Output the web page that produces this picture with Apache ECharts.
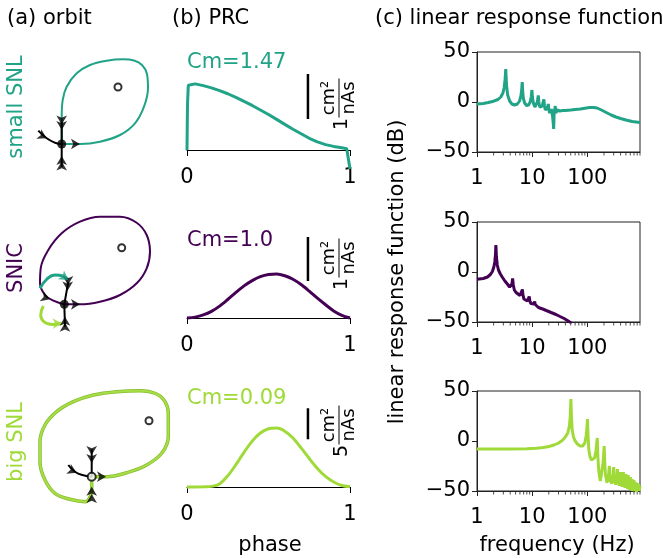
<!DOCTYPE html>
<html>
<head>
<meta charset="utf-8">
<script src="https://cdn.jsdelivr.net/npm/echarts@6/dist/echarts.min.js"></script>
<style>
  html, body { margin: 0; padding: 0; background: #fff; }
  #chart { width: 663px; height: 558px; }
</style>
</head>
<body>
<div id="chart"></div>
<script>
// ---- data ----
var rowNames = ["small SNL", "SNIC", "big SNL"];
var cmLabels = ["Cm=1.47", "Cm=1.0", "Cm=0.09"];
var scaleUnits = ["1", "1", "5"];
var colors = ["#20a386", "#440154", "#a0da39"];

// (a) orbits, phase plane (arbitrary units)
var orbitSmall = [[4.17, 3.6], [6.0, 3.6], [8.0, 3.83], [10.0, 4.5], [11.5, 5.67], [12.4, 7.33], [12.8, 9.2], [12.7, 10.6], [12.2, 11.5], [11.4, 11.95], [10.33, 12.07], [8.67, 11.93], [7.0, 11.5], [5.67, 10.67], [4.67, 9.33], [4.27, 8.0], [4.17, 6.33], [4.17, 3.6]];
var orbitSnic = [[4.43, 4.07], [6.0, 4.07], [8.0, 4.33], [10.0, 5.0], [11.67, 6.17], [12.67, 7.67], [13.0, 9.33], [12.67, 11.0], [11.67, 12.23], [10.0, 12.83], [8.0, 12.83], [6.0, 12.33], [4.17, 11.17], [2.83, 9.5], [2.07, 7.67], [2.0, 6.17], [2.5, 5.0], [3.33, 4.43], [4.43, 4.07]];
var orbitBig = [[7.17, 4.83], [8.67, 4.83], [10.67, 5.23], [12.67, 6.0], [14.17, 7.17], [14.83, 8.83], [14.83, 11.17], [14.5, 12.33], [13.67, 13.1], [12.0, 13.43], [9.67, 13.33], [7.33, 13.0], [5.33, 12.33], [3.67, 11.33], [2.5, 10.0], [2.0, 8.33], [2.0, 6.33], [2.5, 4.5], [3.5, 3.17], [5.0, 2.57], [6.5, 2.33], [6.93, 2.67], [7.17, 3.5], [7.17, 4.83]];
var saddles = [[4.17, 3.6], [4.43, 4.07], [7.17, 4.83]];
var foci = [[9.8, 9.3], [10.17, 9.73], [12.9, 10.43]];
var stableManifolds = [
  [[4.17, 5.8], [4.17, 1.3]],
  [[4.83, 6.33], [4.43, 4.07], [4.5, 1.83]],
  [[7.17, 7.57], [7.17, 4.83]],
];
var incoming = [
  [[1.83, 4.93], [2.67, 4.17], [3.5, 3.73], [4.17, 3.6]],
  [],
  [[4.83, 6.0], [5.5, 5.33], [6.33, 4.97], [7.17, 4.83]],
];
// [x, y, direction in degrees]
var arrowsSmall = [[4.17, 5.55, 180], [4.17, 5.0, 180], [4.17, 2.4, 0], [4.17, 1.85, 0], [6.0, 3.6, -90], [2.67, 4.17, -118]];
var arrowsSnic = [[4.8, 6.0, 180], [4.77, 5.45, 180], [4.5, 2.83, 0], [4.5, 2.23, 0], [6.0, 4.07, -90], [3.0, 4.57, -110]];
var arrowsBig = [[7.17, 7.0, 180], [7.17, 6.2, 180], [7.17, 3.83, 0], [7.17, 3.1, 0], [8.6, 4.83, -90], [5.67, 5.23, -115]];
var kickUp = [[2.0, 5.67], [2.7, 6.6], [3.5, 7.0], [4.3, 6.9], [4.83, 6.5]];
var kickDown = [[2.33, 3.9], [2.07, 3.0], [2.67, 2.17], [3.4, 2.05], [4.17, 2.17]];

// (b) phase response curves
var prcSmall = [[0, 0], [0.003, 1.0], [0.008, 1.44], [0.02, 1.48], [0.05, 1.47], [0.1, 1.43], [0.15, 1.38], [0.2, 1.32], [0.25, 1.25], [0.3, 1.17], [0.35, 1.08], [0.4, 0.99], [0.45, 0.89], [0.5, 0.79], [0.55, 0.68], [0.6, 0.57], [0.65, 0.46], [0.7, 0.36], [0.75, 0.26], [0.8, 0.18], [0.85, 0.12], [0.9, 0.08], [0.95, 0.05], [0.98, 0.03], [0.99, 0.0], [1.0, -0.42]];
var prcSnic = [[0, 0], [0.05, 0.02], [0.1, 0.07], [0.15, 0.15], [0.2, 0.27], [0.25, 0.42], [0.3, 0.58], [0.35, 0.73], [0.4, 0.85], [0.45, 0.94], [0.5, 0.99], [0.55, 1.0], [0.6, 0.96], [0.65, 0.88], [0.7, 0.76], [0.75, 0.61], [0.8, 0.45], [0.85, 0.3], [0.9, 0.16], [0.95, 0.06], [1.0, 0.0]];
var prcBig = [[0, 0], [0.05, 0], [0.1, 0.02], [0.15, 0.1], [0.2, 0.5], [0.25, 1.8], [0.3, 3.6], [0.35, 5.6], [0.4, 7.4], [0.45, 8.7], [0.5, 9.4], [0.55, 9.5], [0.6, 9.0], [0.65, 7.9], [0.7, 6.3], [0.75, 4.6], [0.8, 3.0], [0.85, 1.7], [0.9, 0.8], [0.95, 0.25], [1.0, 0.05]];
var scaleBars = [
  [[0.742, 0.69], [0.742, 1.69]],
  [[0.742, 0.84], [0.742, 1.84]],
  [[0.742, 7.7], [0.742, 12.7]],
];

// (c) linear response function, [Hz, dB]
var lrfSmall = [[1, -2], [1.3, -1.5], [1.6, -0.5], [2, 0.8], [2.4, 2.5], [2.7, 5], [2.95, 9], [3.1, 14], [3.2, 20], [3.27, 27], [3.32, 33], [3.37, 25], [3.45, 15], [3.6, 7], [3.9, 1], [4.3, -2], [4.8, -3], [5.4, -2], [5.9, 1], [6.25, 6], [6.45, 12], [6.6, 20], [6.72, 12], [6.9, 4], [7.3, -1], [7.9, -3.5], [8.6, -3], [9.2, 0], [9.6, 5], [9.9, 12], [10.1, 5], [10.5, -1], [11.2, -5], [11.8, -4], [12.4, 0], [12.9, 6.5], [13.2, 0], [13.7, -5], [14.4, -7], [15.2, -4], [15.8, 0], [16.3, 2.5], [16.7, -4], [17.3, -8], [18.2, -9], [19, -5], [19.6, -2], [20.1, -8], [20.8, -11], [21.6, -13], [22.3, -7], [22.8, -5], [23.4, -14], [24, -20], [24.5, -27], [25, -12], [25.6, -8], [26.2, -4], [26.8, -11], [27.6, -12], [28.5, -8], [29.5, -6], [30.5, -10], [31.5, -9], [33, -8], [36, -8.5], [40, -8.5], [50, -8], [60, -7.5], [75, -7], [90, -6.2], [110, -5.6], [130, -5.4], [150, -6], [180, -8], [220, -10.5], [270, -13], [330, -15], [400, -16.5], [500, -18], [650, -19.5], [900, -20.5]];
var lrfSnic = [[1, -7.3], [1.3, -6.5], [1.55, -5], [1.75, -2.5], [1.9, 0.5], [2.02, 5], [2.1, 10], [2.16, 17], [2.2, 27], [2.25, 15], [2.33, 7], [2.45, 2], [2.65, -2], [2.9, -5.5], [3.2, -9], [3.55, -12], [3.9, -15], [4.15, -16], [4.3, -12], [4.42, -6.5], [4.55, -13], [4.75, -18], [5.1, -20.5], [5.5, -22], [6.0, -23.5], [6.4, -21.5], [6.65, -17.5], [6.8, -23], [7.1, -27], [7.6, -28.5], [8.2, -29], [8.6, -27.5], [8.85, -24.5], [9.05, -29], [9.5, -31.5], [10.2, -33], [10.8, -32], [11.1, -29.5], [11.35, -32.5], [12, -34.5], [13, -35.5], [14, -36], [15.5, -37], [18, -38.5], [22, -40.5], [27, -42.5], [32, -44.5], [38, -46.5], [45, -49], [52, -51.5]];
var lrfBig = [[1, -8], [2, -8], [4, -8], [8, -7.8], [12, -7.3], [16, -6.5], [20, -5.5], [25, -4], [30, -2], [35, 0.5], [40, 4], [44, 8], [47, 14], [49, 24], [50.3, 42], [51.5, 24], [53, 12], [56, 4], [60, 0], [66, -3], [74, -5], [82, -5], [90, -2], [95, 5], [98, 12], [100.5, 22], [103, 5], [106, -8], [111, -15], [118, -19], [126, -18], [135, -17], [143, -10], [148, -2], [151.5, 3], [155, -15], [160, -28], [166, -35], [172, -40], [178, -35], [185, -28], [193, -22], [198, -12], [202, -5], [206, -20], [212, -33], [220, -38],
  [228, -42], [234, -33], [240, -40], [246, -30], [251, -25], [256, -36], [262, -41], [268, -34], [275, -43], [282, -36], [290, -40], [296, -30], [300, -26], [305, -37], [312, -42], [318, -35], [325, -44], [332, -37], [340, -42], [346, -32], [350, -28], [356, -38], [363, -43], [370, -36], [378, -45], [386, -38], [394, -43], [399, -31], [403, -36], [410, -44], [418, -38], [426, -46], [434, -39], [442, -45], [450, -31], [456, -39], [464, -45], [472, -38], [480, -47], [490, -40], [496, -46], [500, -33], [507, -41], [516, -47], [526, -40], [536, -48], [545, -40], [550, -34], [557, -44], [566, -48], [576, -41], [586, -49], [596, -42], [601, -36], [608, -45], [618, -49], [628, -42], [640, -49], [648, -38], [656, -46], [668, -50], [680, -43], [692, -50], [700, -39], [710, -47], [722, -50], [735, -44], [745, -50], [751, -41], [760, -48], [775, -51], [788, -45], [798, -42], [808, -50], [822, -52], [836, -46], [850, -43], [862, -50], [878, -52], [890, -47], [900, -45]];
var minorTicks = [2, 3, 4, 5, 6, 7, 8, 9, 20, 30, 40, 50, 60, 70, 80, 90, 200, 300, 400, 500, 600, 700, 800, 900];
var freqLabels = [1, 10, 100];

// ---- layout ----
var FONT = "DejaVu Sans";
var rowTop = [30, 195, 375];
var prcGrid = [
  { top: 60, max: 2.0 },
  { top: 228, max: 2.045 },
  { top: 397, max: 14.516 },
];
var lrfTop = [52, 222, 391];
var scaleLabelY = [98, 258, 425];

var orbits = [orbitSmall, orbitSnic, orbitBig];
var arrows = [arrowsSmall, arrowsSnic, arrowsBig];
var prcs = [prcSmall, prcSnic, prcBig];
var lrfs = [lrfSmall, lrfSnic, lrfBig];

var chart = echarts.init(document.getElementById("chart"), null, { renderer: "canvas" });

var grid = [], xAxis = [], yAxis = [], series = [], graphic = [];

function arrowSeries(idx, pts, color) {
  return {
    type: "scatter",
    xAxisIndex: idx,
    yAxisIndex: idx,
    symbol: "arrow",
    symbolSize: [8, 9],
    itemStyle: { color: color },
    silent: true,
    z: 5,
    data: pts.map(function (p) {
      return { value: [p[0], p[1]], symbolRotate: p[2] };
    }),
  };
}

function lineSeries(idx, data, color, width, smooth, z) {
  return {
    type: "line",
    xAxisIndex: idx,
    yAxisIndex: idx,
    data: data,
    showSymbol: false,
    symbol: "none",
    smooth: smooth,
    silent: true,
    clip: false,
    z: z || 2,
    lineStyle: { color: color, width: width },
  };
}

for (var r = 0; r < 3; r++) {
  // ---- (a) orbit ----
  var gi = grid.length;
  grid.push({ left: 20, top: rowTop[r], width: 150, height: 150 });
  xAxis.push({ gridIndex: gi, type: "value", min: 0, max: 15, show: false });
  yAxis.push({ gridIndex: gi, type: "value", min: 0, max: 15, show: false });
  if (r === 2) {
    series.push(lineSeries(gi, orbits[r], "#86bd30", 3.5, 0.4, 2));
    series.push(lineSeries(gi, orbits[r], "#a8de45", 2, 0.4, 3));
  } else {
    series.push(lineSeries(gi, orbits[r], colors[r], 2, 0.4, 3));
  }
  series.push(lineSeries(gi, stableManifolds[r], "#000", 2, false, 4));
  if (incoming[r].length) series.push(lineSeries(gi, incoming[r], "#000", 2, true, 4));
  series.push(arrowSeries(gi, arrows[r], "#000"));
  if (r === 1) {
    series.push(lineSeries(gi, kickUp, colors[0], 3, true, 4));
    series.push(arrowSeries(gi, [[4.83, 6.5, -125]], colors[0]));
    series.push(lineSeries(gi, kickDown, colors[2], 3, true, 4));
    series.push(arrowSeries(gi, [[4.17, 2.17, -88]], colors[2]));
  }
  series.push({
    type: "scatter", xAxisIndex: gi, yAxisIndex: gi, silent: true, z: 6,
    symbol: "circle", symbolSize: 7,
    itemStyle: { color: "#fff", borderColor: "#000", borderWidth: 2 },
    data: [foci[r]],
  });
  series.push({
    type: "scatter", xAxisIndex: gi, yAxisIndex: gi, silent: true, z: 6,
    symbol: "circle", symbolSize: r === 2 ? 8 : 9,
    itemStyle: r === 2 ? { color: "#fff", borderColor: "#000", borderWidth: 2 } : { color: "#000" },
    data: [saddles[r]],
  });
  graphic.push({
    type: "text", x: 17, y: [107, 268, 442][r], rotation: Math.PI / 2,
    style: { text: rowNames[r], fill: colors[r], fontSize: 21, fontFamily: FONT, textAlign: "center", textVerticalAlign: "middle" },
  });

  // ---- (b) PRC ----
  gi = grid.length;
  var pg = prcGrid[r];
  grid.push({ left: 187, width: 163, top: pg.top, height: 90 });
  xAxis.push({
    gridIndex: gi, type: "value", min: 0, max: 1, interval: 1,
    axisLine: { onZero: false, lineStyle: { color: "#000", width: 1 } },
    axisTick: { length: 6, lineStyle: { color: "#000" } },
    axisLabel: { color: "#000", fontSize: 21, fontFamily: FONT, margin: 17 },
    splitLine: { show: false },
  });
  yAxis.push({ gridIndex: gi, type: "value", min: 0, max: pg.max, show: false });
  series.push(lineSeries(gi, prcs[r], colors[r], 3, r === 0 ? false : 0.3, 3));
  series.push(lineSeries(gi, scaleBars[r], "#000", 2.5, false, 3));
  graphic.push({
    type: "text", x: 187, y: [63, 241, 399][r],
    style: { text: cmLabels[r], fill: colors[r], fontSize: 21, fontFamily: FONT, textAlign: "left", textVerticalAlign: "middle" },
  });
  graphic.push({
    type: "group", x: 339, y: scaleLabelY[r], rotation: Math.PI / 2,
    children: [
      { type: "line", shape: { x1: -19.5, y1: 0, x2: 19.5, y2: 0 }, style: { stroke: "#000", lineWidth: 1 } },
      { type: "text", x: 0, y: -10, style: { text: "cm\u00b2", fill: "#000", fontSize: 18, fontFamily: FONT, textAlign: "center", textVerticalAlign: "middle" } },
      { type: "text", x: 0, y: 10, style: { text: "nAs", fill: "#000", fontSize: 18, fontFamily: FONT, textAlign: "center", textVerticalAlign: "middle" } },
      { type: "text", x: -26, y: 3, style: { text: scaleUnits[r], fill: "#000", fontSize: 19, fontFamily: FONT, textAlign: "center", textVerticalAlign: "middle" } },
    ],
  });

  // ---- (c) linear response function ----
  gi = grid.length;
  grid.push({ left: 477, width: 163, top: lrfTop[r], height: 100, show: true, borderColor: "#222", borderWidth: 1 });
  xAxis.push({
    gridIndex: gi, type: "log", logBase: 10, min: 1, max: 900,
    axisLine: { onZero: false, lineStyle: { color: "#222" } },
    axisTick: { length: 5, lineStyle: { color: "#222" } },
    axisLabel: {
      color: "#000", fontSize: 21, fontFamily: FONT, margin: 16, showMaxLabel: false,
      formatter: function (v) {
        var n = Math.round(v);
        return freqLabels.indexOf(n) >= 0 ? String(n) : "";
      },
    },
    splitLine: { show: false },
  });
  yAxis.push({
    gridIndex: gi, type: "value", min: -50, max: 50, interval: 50,
    axisLine: { show: true, onZero: false, lineStyle: { color: "#222" } },
    axisTick: { show: true, length: 5, lineStyle: { color: "#222" } },
    axisLabel: {
      color: "#000", fontSize: 21, fontFamily: FONT, margin: 7,
      formatter: function (v) { return v < 0 ? "\u2212" + (-v) : String(v); },
    },
    splitLine: { show: false },
  });
  var lrf = lineSeries(gi, lrfs[r], colors[r], 3, false, 3);
  lrf.clip = true;
  series.push(lrf);
  series.push({
    type: "scatter", xAxisIndex: gi, yAxisIndex: gi, silent: true, clip: false,
    symbol: "rect", symbolSize: [1, 3], symbolOffset: [0, 2],
    itemStyle: { color: "#222" },
    data: minorTicks.map(function (f) { return [f, -50]; }),
  });
}

// titles and axis names
function txt(s, x, y, align, rot) {
  return {
    type: "text", x: x, y: y, rotation: rot || 0,
    style: { text: s, fill: "#000", fontSize: 21, fontFamily: FONT, textAlign: align, textVerticalAlign: "middle" },
  };
}
graphic.push(txt("(a) orbit", 7, 19, "left"));
graphic.push(txt("(b) PRC", 172, 19, "left"));
graphic.push(txt("(c) linear response function", 375, 19, "left"));
graphic.push(txt("phase", 270, 546, "center"));
graphic.push(txt("frequency (Hz)", 557, 546, "center"));
graphic.push(txt("linear response function (dB)", 398, 272, "center", Math.PI / 2));

chart.setOption({
  animation: false,
  backgroundColor: "#fff",
  grid: grid,
  xAxis: xAxis,
  yAxis: yAxis,
  series: series,
  graphic: graphic,
});
</script>
</body>
</html>
